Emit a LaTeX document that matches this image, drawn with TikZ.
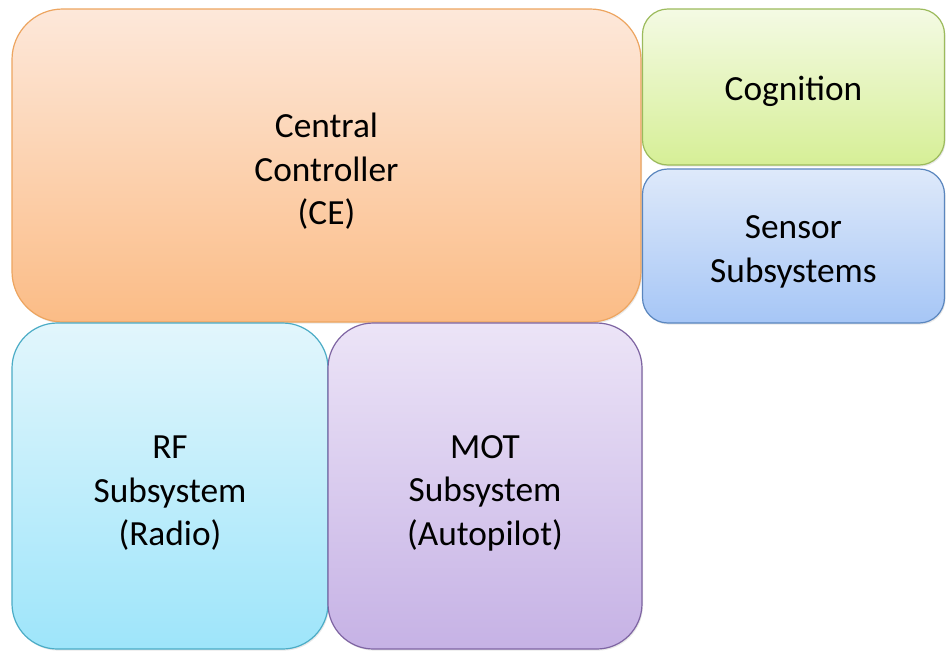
\documentclass[tikz,border=0pt]{standalone}
\usepackage{fontspec}
\setmainfont{Carlito}
\usetikzlibrary{shadows}

% Fill and border colours of the blocks
\definecolor{ccTop}{HTML}{FDE8DA}
\definecolor{ccBot}{HTML}{FBBC86}
\definecolor{ccLine}{HTML}{EDA560}
\definecolor{cgTop}{HTML}{F4FAE4}
\definecolor{cgBot}{HTML}{D6EF96}
\definecolor{cgLine}{HTML}{9CBB5C}
\definecolor{ssTop}{HTML}{DEE9FA}
\definecolor{ssBot}{HTML}{A6C6F6}
\definecolor{ssLine}{HTML}{5A86BE}
\definecolor{rfTop}{HTML}{E2F6FC}
\definecolor{rfBot}{HTML}{9EE5FA}
\definecolor{rfLine}{HTML}{4BACC6}
\definecolor{mtTop}{HTML}{ECE4F7}
\definecolor{mtBot}{HTML}{C6B2E5}
\definecolor{mtLine}{HTML}{7E64A2}

\tikzset{
  caption/.style={align=center, font=\fontsize{26.5}{32.5}\selectfont, text=black,
    inner sep=0pt, yshift=-4.5pt},
  block/.style={rectangle, inner sep=0pt, outer sep=0pt, line width=0.9pt,
    drop shadow={opacity=0.18, shadow xshift=0.8pt, shadow yshift=-1.2pt}},
  central/.style={block, rounded corners=38pt, top color=ccTop, bottom color=ccBot, draw=ccLine},
  cognition/.style={block, rounded corners=19pt, top color=cgTop, bottom color=cgBot, draw=cgLine},
  sensor/.style={block, rounded corners=19pt, top color=ssTop, bottom color=ssBot, draw=ssLine},
  radio/.style={block, rounded corners=34pt, top color=rfTop, bottom color=rfBot, draw=rfLine},
  motion/.style={block, rounded corners=34pt, top color=mtTop, bottom color=mtBot, draw=mtLine},
}

\begin{document}
\begin{tikzpicture}[x=0.75pt, y=-0.75pt]
  \useasboundingbox[fill=white] (0,0) rectangle (946,651);

  \node[central, minimum width=471.75pt, minimum height=234.75pt,
    label={[caption]center:Central\\Controller\\(CE)}] (cc) at (326.5,165.5) {};
  \node[cognition, minimum width=226.5pt, minimum height=117pt,
    label={[caption, yshift=1.5pt]center:Cognition}] (cog) at (793.5,87) {};
  \node[sensor, minimum width=226.5pt, minimum height=115.5pt,
    label={[caption]center:Sensor\\Subsystems}] (sen) at (793.5,246) {};
  \node[radio, minimum width=237pt, minimum height=244.5pt,
    label={[caption, yshift=-1pt]center:RF\\Subsystem\\(Radio)}] (rf) at (170,486) {};
  \node[motion, minimum width=235.5pt, minimum height=244.5pt,
    label={[caption, yshift=-1pt]center:MOT\\Subsystem\\(Autopilot)}] (mot) at (485,486) {};
\end{tikzpicture}
\end{document}
